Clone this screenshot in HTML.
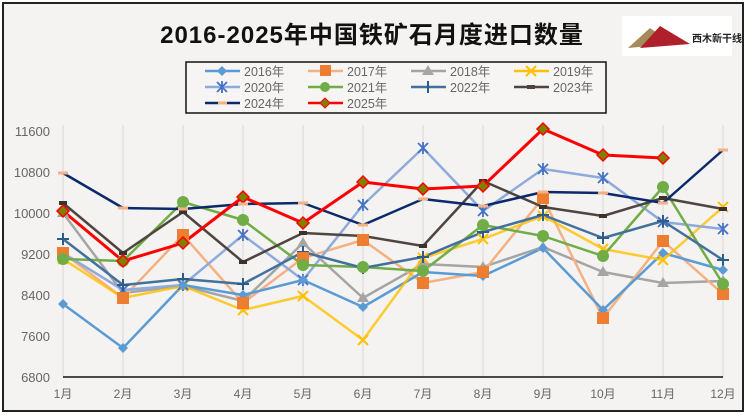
<!DOCTYPE html>
<html><head><meta charset="utf-8"><style>
body{margin:0;width:747px;height:415px;overflow:hidden;background:#fff}
svg{display:block;font-family:"Liberation Sans","Noto Sans CJK SC",sans-serif}
</style></head><body>
<svg width="747" height="415" viewBox="0 0 747 415">
<rect x="0" y="0" width="747" height="415" fill="#fff"/>
<rect x="3" y="3" width="740" height="408" fill="#f4f3f1" stroke="#222" stroke-width="2"/>
<text x="372" y="43" text-anchor="middle" font-size="24" font-weight="bold" fill="#111" letter-spacing="1">2016-2025年中国铁矿石月度进口数量</text>
<rect x="622" y="16" width="110" height="40" fill="#fff"/>
<path d="M628,48 L650,28 L672,44 Z" fill="#a58a5a"/><path d="M640,48 L660,26 L690,44 Z" fill="#b0202a"/>
<text x="692" y="42" font-size="10" font-weight="bold" fill="#222">西木新干线</text>
<rect x="186" y="62" width="420" height="51" fill="#f6f5f3" stroke="#111" stroke-width="1.5"/>
<g stroke="#dcdcdc" stroke-width="1.2">
<line x1="63" y1="125" x2="63" y2="377"/><line x1="123" y1="125" x2="123" y2="377"/><line x1="183" y1="125" x2="183" y2="377"/><line x1="243" y1="125" x2="243" y2="377"/><line x1="303" y1="125" x2="303" y2="377"/><line x1="363" y1="125" x2="363" y2="377"/><line x1="423" y1="125" x2="423" y2="377"/><line x1="483" y1="125" x2="483" y2="377"/><line x1="543" y1="125" x2="543" y2="377"/><line x1="603" y1="125" x2="603" y2="377"/><line x1="663" y1="125" x2="663" y2="377"/><line x1="723" y1="125" x2="723" y2="377"/>
</g>
<line x1="63" y1="377" x2="723" y2="377" stroke="#111" stroke-width="1.5"/>
<g font-size="13" fill="#666" text-anchor="end">
<text x="50" y="136">11600</text><text x="50" y="177">10800</text><text x="50" y="218">10000</text><text x="50" y="259">9200</text><text x="50" y="300">8400</text><text x="50" y="341">7600</text><text x="50" y="382">6800</text>
</g>
<g font-size="12" fill="#666" text-anchor="middle">
<text x="63" y="398">1月</text><text x="123" y="398">2月</text><text x="183" y="398">3月</text><text x="243" y="398">4月</text><text x="303" y="398">5月</text><text x="363" y="398">6月</text><text x="423" y="398">7月</text><text x="483" y="398">8月</text><text x="543" y="398">9月</text><text x="603" y="398">10月</text><text x="663" y="398">11月</text><text x="723" y="398">12月</text>
</g>
<g fill="none" stroke-width="2.5" stroke-linejoin="round">
<polyline stroke="#a5a5a5" points="63,213 123,293 183,286 243,301 303,243 363,298 423,264 483,267 543,247 603,272 663,283 723,281"/>
<polyline stroke="#f4b183" points="63,253 123,298 183,235 243,303 303,258 363,240 423,283 483,272 543,198 603,318 663,241 723,294"/>
<polyline stroke="#5b9bd5" points="63,304 123,348 183,285 243,295 303,280 363,307 423,272 483,276 543,248 603,310 663,253 723,270"/>
<polyline stroke="#ffc000" stroke-opacity=".8" points="63,259 123,298 183,286 243,310 303,296 363,340 423,258 483,239 543,216 603,249 663,260 723,207"/>
<polyline stroke="#8faadc" points="63,253 123,290 183,285 243,235 303,280 363,205 423,148 483,211 543,169 603,178 663,222 723,229"/>
<polyline stroke="#70ad47" points="63,259 123,261 183,202 243,220 303,265 363,267 423,271 483,225 543,236 603,256 663,187 723,284"/>
<polyline stroke="#41719c" points="63,239 123,285 183,279 243,284 303,252 363,268 423,257 483,232 543,215 603,238 663,221 723,260"/>
<polyline stroke="#4e4540" points="63,203 123,253 183,212 243,262 303,233 363,236 423,246 483,181 543,207 603,216 663,198 723,209"/>
<polyline stroke="#0b2a6b" points="63,173 123,208 183,209 243,204 303,203 363,225 423,199 483,206 543,192 603,193 663,203 723,150"/>
<polyline stroke="#ff0000" stroke-width="3" points="63,211 123,261 183,243 243,197 303,223 363,182 423,189 483,186 543,129 603,155 663,158"/>
</g>
<!-- 2018 triangles -->
<g fill="#a5a5a5">
<path d="M63,207l6,10h-12z"/><path d="M123,287l6,10h-12z"/><path d="M183,280l6,10h-12z"/><path d="M243,295l6,10h-12z"/><path d="M303,237l6,10h-12z"/><path d="M363,292l6,10h-12z"/><path d="M423,258l6,10h-12z"/><path d="M483,261l6,10h-12z"/><path d="M543,241l6,10h-12z"/><path d="M603,266l6,10h-12z"/><path d="M663,277l6,10h-12z"/><path d="M723,275l6,10h-12z"/>
</g>
<!-- 2019 X -->
<g stroke="#ffc000" stroke-width="2">
<path d="M58,254l10,10M68,254l-10,10"/><path d="M118,293l10,10M128,293l-10,10"/><path d="M178,281l10,10M188,281l-10,10"/><path d="M238,305l10,10M248,305l-10,10"/><path d="M298,291l10,10M308,291l-10,10"/><path d="M358,335l10,10M368,335l-10,10"/><path d="M418,253l10,10M428,253l-10,10"/><path d="M478,234l10,10M488,234l-10,10"/><path d="M538,211l10,10M548,211l-10,10"/><path d="M598,244l10,10M608,244l-10,10"/><path d="M658,255l10,10M668,255l-10,10"/><path d="M718,202l10,10M728,202l-10,10"/>
</g>
<!-- 2020 asterisk -->
<g stroke="#4472c4" stroke-width="1.8">
<path d="M58,248l10,10M68,248l-10,10M63,247v12"/><path d="M118,285l10,10M128,285l-10,10M123,284v12"/><path d="M178,280l10,10M188,280l-10,10M183,279v12"/><path d="M238,230l10,10M248,230l-10,10M243,229v12"/><path d="M298,275l10,10M308,275l-10,10M303,274v12"/><path d="M358,200l10,10M368,200l-10,10M363,199v12"/><path d="M418,143l10,10M428,143l-10,10M423,142v12"/><path d="M478,206l10,10M488,206l-10,10M483,205v12"/><path d="M538,164l10,10M548,164l-10,10M543,163v12"/><path d="M598,173l10,10M608,173l-10,10M603,172v12"/><path d="M658,217l10,10M668,217l-10,10M663,216v12"/><path d="M718,224l10,10M728,224l-10,10M723,223v12"/>
</g>
<!-- 2022 plus -->
<g stroke="#2e5c8a" stroke-width="2">
<path d="M57,239h12M63,233v12"/><path d="M117,285h12M123,279v12"/><path d="M177,279h12M183,273v12"/><path d="M237,284h12M243,278v12"/><path d="M297,252h12M303,246v12"/><path d="M357,268h12M363,262v12"/><path d="M417,257h12M423,251v12"/><path d="M477,232h12M483,226v12"/><path d="M537,215h12M543,209v12"/><path d="M597,238h12M603,232v12"/><path d="M657,221h12M663,215v12"/><path d="M717,260h12M723,254v12"/>
</g>
<!-- 2023 small squares -->
<g fill="#3a322d">
<rect x="59" y="201" width="8" height="4"/><rect x="119" y="251" width="8" height="4"/><rect x="179" y="210" width="8" height="4"/><rect x="239" y="260" width="8" height="4"/><rect x="299" y="231" width="8" height="4"/><rect x="359" y="234" width="8" height="4"/><rect x="419" y="244" width="8" height="4"/><rect x="479" y="179" width="8" height="4"/><rect x="539" y="205" width="8" height="4"/><rect x="599" y="214" width="8" height="4"/><rect x="659" y="196" width="8" height="4"/><rect x="719" y="207" width="8" height="4"/>
</g>
<g fill="#5b9bd5">
<path d="M63,299l5,5-5,5-5-5z"/><path d="M123,343l5,5-5,5-5-5z"/><path d="M183,280l5,5-5,5-5-5z"/><path d="M243,290l5,5-5,5-5-5z"/><path d="M303,275l5,5-5,5-5-5z"/><path d="M363,302l5,5-5,5-5-5z"/><path d="M423,267l5,5-5,5-5-5z"/><path d="M483,271l5,5-5,5-5-5z"/><path d="M543,243l5,5-5,5-5-5z"/><path d="M603,305l5,5-5,5-5-5z"/><path d="M663,248l5,5-5,5-5-5z"/><path d="M723,265l5,5-5,5-5-5z"/>
</g>
<g fill="#ed7d31">
<rect x="57" y="247" width="12" height="12"/><rect x="117" y="292" width="12" height="12"/><rect x="177" y="229" width="12" height="12"/><rect x="237" y="297" width="12" height="12"/><rect x="297" y="252" width="12" height="12"/><rect x="357" y="234" width="12" height="12"/><rect x="417" y="277" width="12" height="12"/><rect x="477" y="266" width="12" height="12"/><rect x="537" y="192" width="12" height="12"/><rect x="597" y="312" width="12" height="12"/><rect x="657" y="235" width="12" height="12"/><rect x="717" y="288" width="12" height="12"/>
</g>
<g fill="#70ad47">
<circle cx="63" cy="259" r="6"/><circle cx="123" cy="261" r="6"/><circle cx="183" cy="202" r="6"/><circle cx="243" cy="220" r="6"/><circle cx="303" cy="265" r="6"/><circle cx="363" cy="267" r="6"/><circle cx="423" cy="271" r="6"/><circle cx="483" cy="225" r="6"/><circle cx="543" cy="236" r="6"/><circle cx="603" cy="256" r="6"/><circle cx="663" cy="187" r="6"/><circle cx="723" cy="284" r="6"/>
</g>
<g fill="#808000" stroke="#ff0000" stroke-width="1.5">
<path d="M63,205l6,6-6,6-6-6z"/><path d="M123,255l6,6-6,6-6-6z"/><path d="M183,237l6,6-6,6-6-6z"/><path d="M243,191l6,6-6,6-6-6z"/><path d="M303,217l6,6-6,6-6-6z"/><path d="M363,176l6,6-6,6-6-6z"/><path d="M423,183l6,6-6,6-6-6z"/><path d="M483,180l6,6-6,6-6-6z"/><path d="M543,123l6,6-6,6-6-6z"/><path d="M603,149l6,6-6,6-6-6z"/><path d="M663,152l6,6-6,6-6-6z"/>
</g>
<g stroke="#f4b183" stroke-width="3">
<path d="M58,173h10M118,208h10M178,209h10M238,204h10M298,203h10M358,225h10M418,199h10M478,206h10M538,192h10M598,193h10M658,203h10M718,150h10"/>
</g>
<g font-size="12.5" fill="#666">
<g stroke-width="2.5"><line x1="205" y1="71" x2="240" y2="71" stroke="#5b9bd5"/><line x1="308" y1="71" x2="343" y2="71" stroke="#f4b183"/><line x1="411" y1="71" x2="446" y2="71" stroke="#a5a5a5"/><line x1="514" y1="71" x2="549" y2="71" stroke="#ffc000"/>
<line x1="205" y1="87" x2="240" y2="87" stroke="#8faadc"/><line x1="308" y1="87" x2="343" y2="87" stroke="#70ad47"/><line x1="411" y1="87" x2="446" y2="87" stroke="#41719c"/><line x1="514" y1="87" x2="549" y2="87" stroke="#4e4540"/>
<line x1="205" y1="103" x2="240" y2="103" stroke="#0b2a6b"/><line x1="308" y1="103" x2="343" y2="103" stroke="#ff0000"/></g>
<path d="M222,66l5,5-5,5-5-5z" fill="#5b9bd5"/><rect x="320" y="65" width="11" height="11" fill="#ed7d31"/><path d="M428,65l6,10h-12z" fill="#a5a5a5"/>
<path d="M526,66l10,10M536,66l-10,10" stroke="#ffc000" stroke-width="2"/>
<path d="M217,82l10,10M227,82l-10,10M222,81v12" stroke="#4472c4" stroke-width="1.8"/>
<path d="M428,81v12" stroke="#2e5c8a" stroke-width="2"/>
<circle cx="325" cy="87" r="5" fill="#70ad47"/><rect x="527" y="85" width="8" height="4" fill="#4e4540"/><path d="M218,103h9" stroke="#f4b183" stroke-width="3"/><path d="M325,98l5,5-5,5-5-5z" fill="#808000" stroke="#f00"/>
<text x="244" y="76">2016年</text><text x="347" y="76">2017年</text><text x="450" y="76">2018年</text><text x="553" y="76">2019年</text>
<text x="244" y="92">2020年</text><text x="347" y="92">2021年</text><text x="450" y="92">2022年</text><text x="553" y="92">2023年</text>
<text x="244" y="108">2024年</text><text x="347" y="108">2025年</text>
</g>
</svg>
</body></html>
